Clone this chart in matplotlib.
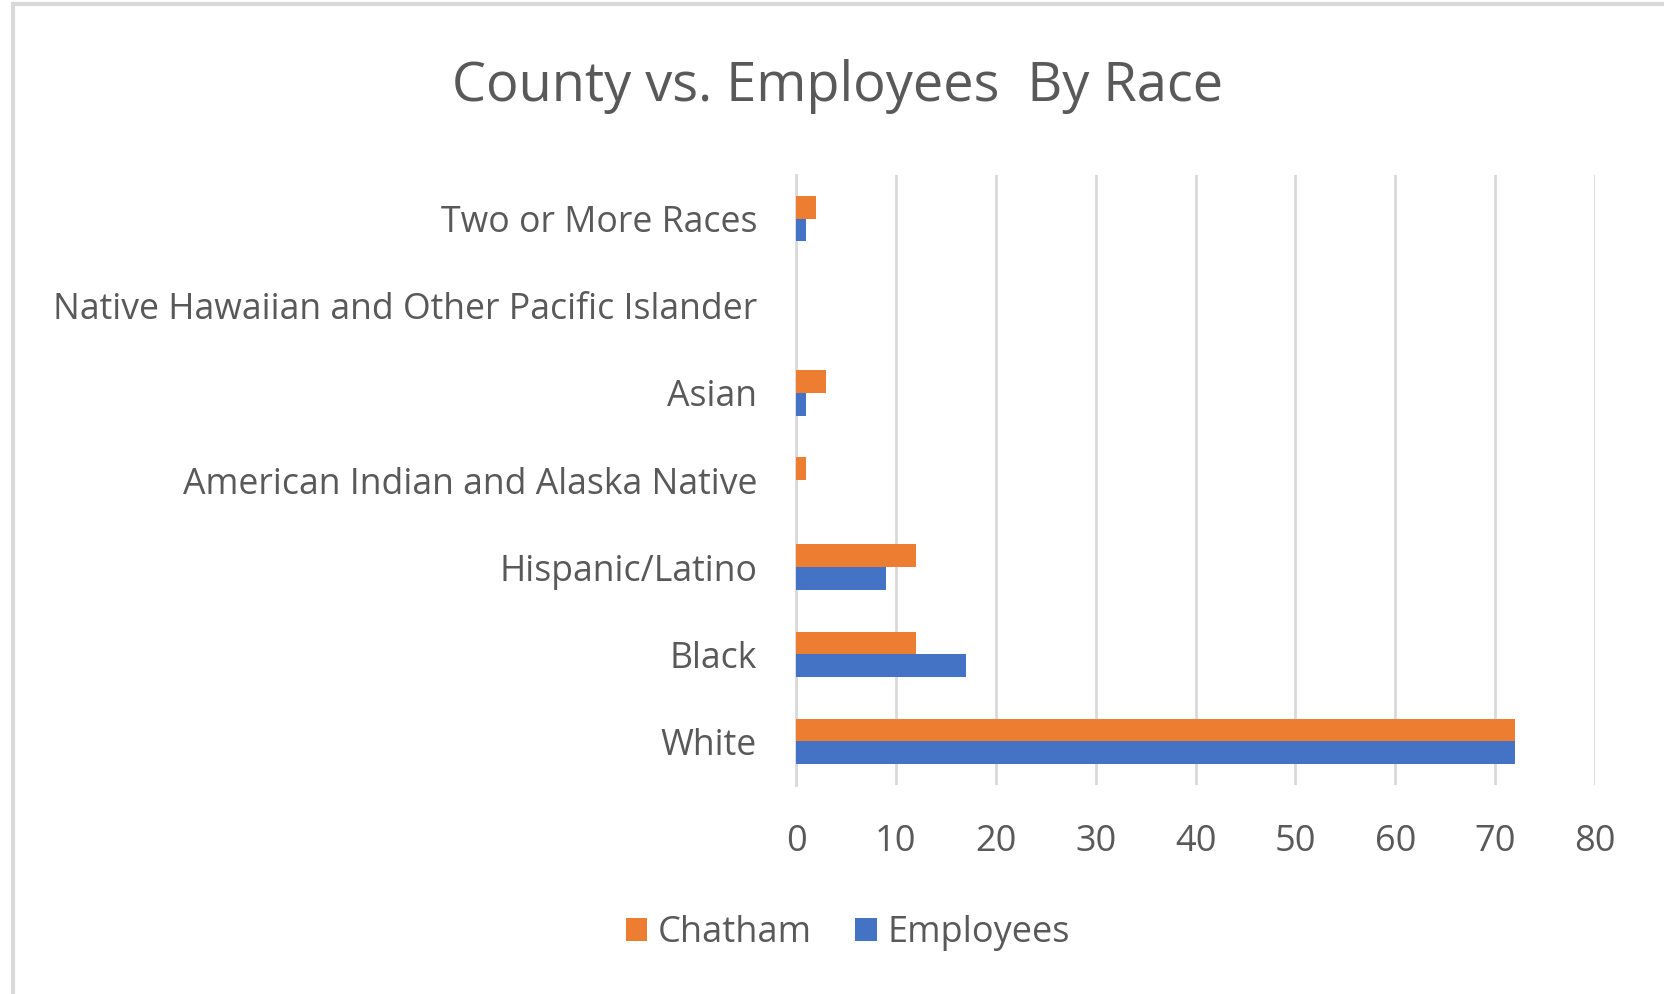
import matplotlib
matplotlib.use("Agg")
import matplotlib.pyplot as plt
import numpy as np
from matplotlib.patches import Rectangle

categories = ["White", "Black", "Hispanic/Latino", "American Indian and Alaska Native",
              "Asian", "Native Hawaiian and Other Pacific Islander", "Two or More Races"]
chatham = [72, 12, 12, 1, 3, 0, 2]
employees = [72, 17, 9, 0, 1, 0, 1]
xticks = [0, 10, 20, 30, 40, 50, 60, 70, 80]

plt.rcParams['font.family'] = ['Open Sans', 'DejaVu Sans']
TXT = '#595959'
GRID = '#d9d9d9'

fig = plt.figure(figsize=(16.64, 9.94), dpi=100)
ax = fig.add_axes([796/1664, 1-785/994, (1595-796)/1664, (785-175)/994])

y = np.arange(len(categories))
h = 0.26
ax.barh(y + h/2, chatham, height=h, color='#ED7D31', label='Chatham', zorder=3)
ax.barh(y - h/2, employees, height=h, color='#4472C4', label='Employees', zorder=3)

ax.set_xlim(0, 80)
ax.set_ylim(-0.5, len(categories) - 0.5)
ax.set_xticks(xticks)
ax.set_yticks(y)
ax.set_yticklabels(categories)
ax.tick_params(axis='x', length=0, labelsize=26, colors=TXT, pad=28)
ax.tick_params(axis='y', length=0, labelsize=25.7, colors=TXT, pad=28)
ax.grid(axis='x', color=GRID, linewidth=2, zorder=0)
for s in ['top', 'right', 'bottom']:
    ax.spines[s].set_visible(False)
ax.spines['left'].set_color(GRID)
ax.spines['left'].set_linewidth(2)

fig.text(0.5035, 1-86/994, "County vs. Employees  By Race", ha='center', va='center',
         fontsize=39, color=TXT)

leg = fig.legend(loc='center', bbox_to_anchor=(848/1664, 1-933/994), ncol=2, frameon=False,
                 fontsize=26, handlelength=0.6, handleheight=0.6, handletextpad=0.3,
                 columnspacing=1.2, labelcolor=TXT)

fig.patches.append(Rectangle((13/1664, -0.01), 1.02, 1 - 4/994 + 0.01, transform=fig.transFigure,
                             fill=False, edgecolor=GRID, linewidth=3))

fig.savefig("out.png", dpi=100)
